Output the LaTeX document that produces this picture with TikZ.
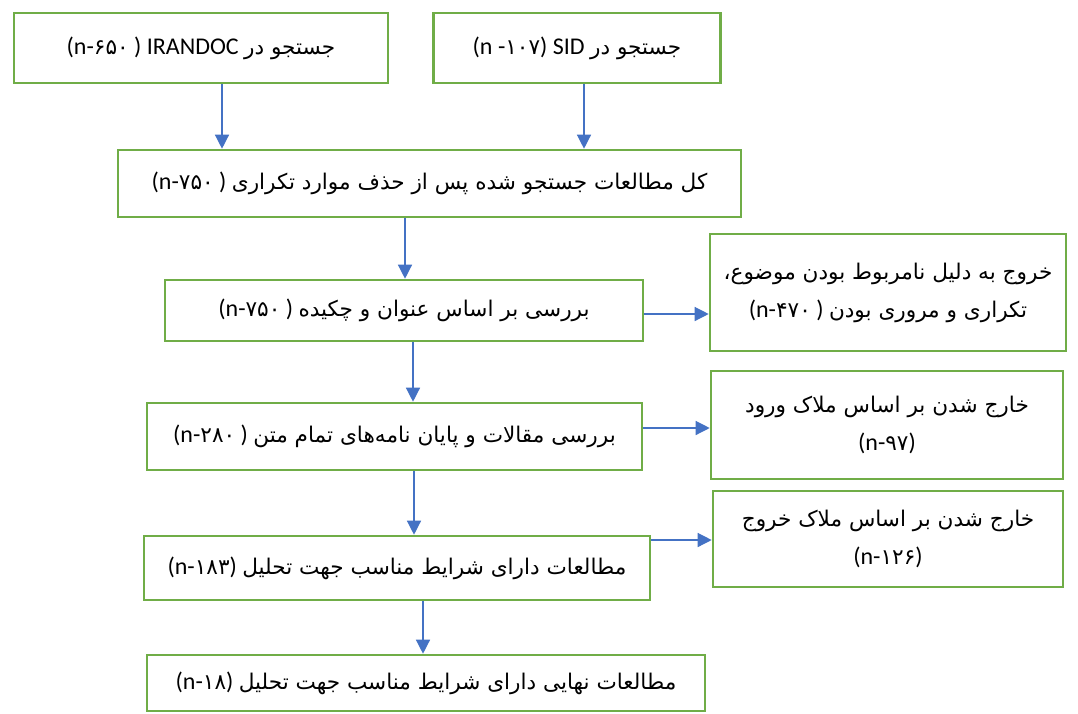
\documentclass[tikz,border=0pt]{standalone}
\usepackage{fontspec}
\setmainfont{Carlito}
\newfontfamily\fa[Script=Arabic,Scale=0.9]{DejaVu Sans}
\TeXXeTstate=1
\usetikzlibrary{arrows.meta}
\definecolor{boxgreen}{RGB}{112,173,71}
\definecolor{arrblue}{RGB}{68,114,196}
\newcommand\fr[1]{{\fa\beginR #1\endR}}
\newcommand\fd[1]{{\fa #1}}
\begin{document}
\begin{tikzpicture}[x=1pt,y=-1pt,
  box/.style={draw=boxgreen, line width=2.6pt, fill=white, inner sep=0pt, align=center,
    font=\fontsize{24}{38}\selectfont},
  arr/.style={draw=arrblue, line width=1.3pt, -{Triangle[width=14pt,length=14pt]}}]
\useasboundingbox[fill=white] (0,0) rectangle (1078,713);
% main column
\node[box, minimum width=374pt, minimum height=70pt] (b1) at (201,48)
  {(n-\fd{۶۵۰} ) IRANDOC \fr{جستجو در}};
\node[box, minimum width=287pt, minimum height=70pt] (b2) at (577,48)
  {(n -\fd{۱۰۷}) SID \fr{جستجو در}};
\node[box, minimum width=623pt, minimum height=67pt] (b3) at (429.5,183.5)
  {(n-\fd{۷۵۰} ) \fr{کل مطالعات جستجو شده پس از حذف موارد تکراری}};
\node[box, minimum width=478pt, minimum height=61pt] (b4) at (404,310.5)
  {(n-\fd{۷۵۰} ) \fr{بررسی بر اساس عنوان و چکیده}};
\node[box, minimum width=495pt, minimum height=67pt] (b5) at (394.5,436.5)
  {(n-\fd{۲۸۰} ) \fr{بررسی مقالات و پایان نامه‌های تمام متن}};
\node[box, minimum width=506pt, minimum height=64pt] (b6) at (397,568)
  {(n-\fd{۱۸۳}) \fr{مطالعات دارای شرایط مناسب جهت تحلیل}};
\node[box, minimum width=558pt, minimum height=56pt] (b7) at (426,683)
  {(n-\fd{۱۸}) \fr{مطالعات نهایی دارای شرایط مناسب جهت تحلیل}};
% right column
\node[box, minimum width=356pt, minimum height=117pt] (ra) at (888,292.5)
  {\fr{خروج به دلیل نامربوط بودن موضوع،}\\(n-\fd{۴۷۰} ) \fr{تکراری و مروری بودن}};
\node[box, minimum width=352pt, minimum height=108pt] (rb) at (887,425)
  {\fr{خارج شدن بر اساس ملاک ورود}\\(n-\fd{۹۷})};
\node[box, minimum width=350pt, minimum height=96pt] (rc) at (888,539)
  {\fr{خارج شدن بر اساس ملاک خروج}\\(n-\fd{۱۲۶})};
% arrow anchors
\coordinate (x1) at (222,0);
\coordinate (x2) at (584,0);
\coordinate (x3) at (405,0);
\coordinate (x4) at (413,0);
\coordinate (x5) at (414,0);
\coordinate (x6) at (423,0);
\coordinate (y1) at (0,314);
\coordinate (y2) at (0,428);
\coordinate (y3) at (0,540);
% arrows
\draw[arr] (b1.south -| x1) -- (b3.north -| x1);
\draw[arr] (b2.south -| x2) -- (b3.north -| x2);
\draw[arr] (b3.south -| x3) -- (b4.north -| x3);
\draw[arr] (b4.south -| x4) -- (b5.north -| x4);
\draw[arr] (b5.south -| x5) -- (b6.north -| x5);
\draw[arr] (b6.south -| x6) -- (b7.north -| x6);
\draw[arr] (b4.east |- y1) -- (ra.west |- y1);
\draw[arr] (b5.east |- y2) -- (rb.west |- y2);
\draw[arr] (b6.east |- y3) -- (rc.west |- y3);
\end{tikzpicture}
\end{document}
